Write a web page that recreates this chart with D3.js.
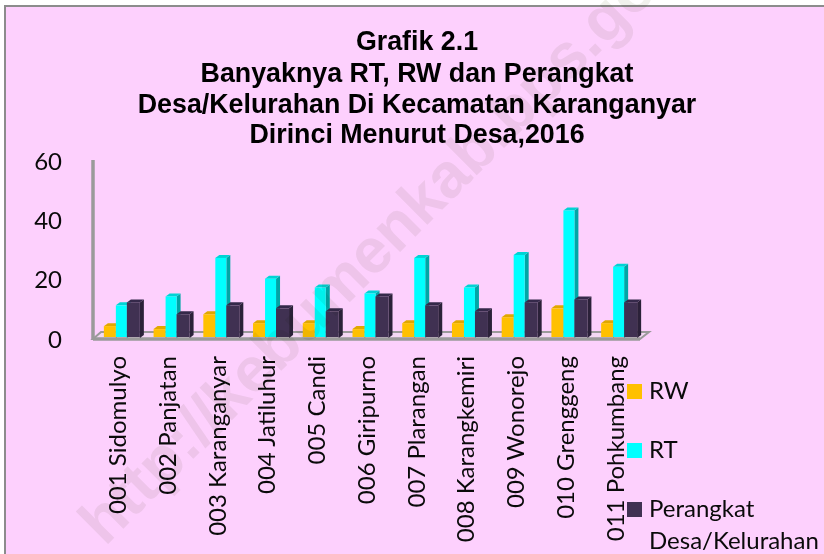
<!DOCTYPE html>
<html>
<head>
<meta charset="utf-8">
<script src="https://cdn.jsdelivr.net/npm/d3@7"></script>
<style>
  html, body { margin: 0; padding: 0; background: #fff; }
  svg { display: block; }
  .label { font-family: Lato, "Open Sans", sans-serif; font-size: 24px; fill: #0a0a0a; }
  .title { font-family: "Liberation Sans", Arial, sans-serif; font-weight: bold; font-size: 26.8px; fill: #000; text-anchor: middle; }
</style>
</head>
<body>
<div id="chart"></div>
<script>
// Data
const categories = ["001 Sidomulyo", "002 Panjatan", "003 Karanganyar", "004 Jatiluhur", "005 Candi",
    "006 Giripurno", "007 Plarangan", "008 Karangkemiri", "009 Wonorejo", "010 Grenggeng", "011 Pohkumbang"];
const rw = [4, 3, 8, 5, 5, 3, 5, 5, 7, 10, 5];
const rt = [11, 14, 27, 20, 17, 15, 27, 17, 28, 43, 24];
const perangkat = [12, 8, 11, 10, 9, 14, 11, 9, 12, 13, 12];
const seriesNames = ["RW", "RT", "Perangkat"];
const yTicks = [0, 20, 40, 60];
const titleLines = ["Grafik 2.1", "Banyaknya RT, RW dan Perangkat",
    "Desa/Kelurahan Di Kecamatan Karanganyar", "Dirinci Menurut Desa,2016"];
const watermark = "http://kebumenkab.bps.go.id";

const width = 824, height = 554;
const plot = { left: 93, right: 640, top: 160, bottom: 338 };
const depth = { x: 4, y: -3 }; // fake 3D offset of the bars

const series = [
    { name: seriesNames[0], values: rw, front: "#ffc000", top: "#e0a800", side: "#c79500", dx: -18, w: 12 },
    { name: seriesNames[1], values: rt, front: "#00ffff", top: "#00d4d4", side: "#00a6a6", dx: -6, w: 11 },
    { name: seriesNames[2], values: perangkat, front: "#403152", top: "#35294a", side: "#2b2139", dx: 5, w: 13 }
];

const svg = d3.select("#chart").append("svg")
    .attr("width", width)
    .attr("height", height);

// Pink panel with its grey border, open on the right and at the bottom
svg.append("rect").attr("x", 6).attr("y", 7).attr("width", width - 6).attr("height", height - 7).attr("fill", "#fdd0fd");
svg.append("path").attr("d", `M5,${height}V6H${width}`).attr("fill", "none").attr("stroke", "#8c8c8c").attr("stroke-width", 2);

// Scales
const x = d3.scaleBand().domain(categories).range([97, 644]);
const y = d3.scaleLinear().domain([0, 60]).range([plot.bottom, plot.top]);

// Floor and back wall
svg.append("path")
    .attr("d", `M${plot.left},${plot.bottom + 1}L${plot.left + 8},${plot.bottom - 6}H${plot.right + 9}L${plot.right},${plot.bottom + 1}Z`)
    .attr("fill", "#f4d8f4")
    .attr("stroke", "#9a9a9a")
    .attr("stroke-width", 2);
svg.append("line")
    .attr("x1", plot.left).attr("x2", plot.right)
    .attr("y1", plot.bottom + 1).attr("y2", plot.bottom + 1)
    .attr("stroke", "#9a9a9a").attr("stroke-width", 3.5);
svg.append("line")
    .attr("x1", plot.left).attr("x2", plot.left)
    .attr("y1", plot.top).attr("y2", plot.bottom + 2)
    .attr("stroke", "#9a9a9a").attr("stroke-width", 3.5);

// Bars
const groups = svg.append("g").selectAll("g")
    .data(categories)
    .enter().append("g")
    .attr("transform", d => `translate(${x(d) + x.bandwidth() / 2},0)`);

series.forEach(s => {
    const bar = groups.append("g").datum((d, i) => ({ v: s.values[i] }));
    bar.append("path")
        .attr("fill", s.side)
        .attr("d", d => `M${s.dx + s.w},${y(d.v)}l${depth.x},${depth.y}V${y(0) + depth.y}l${-depth.x},${-depth.y}Z`);
    bar.append("path")
        .attr("fill", s.top)
        .attr("d", d => `M${s.dx},${y(d.v)}l${depth.x},${depth.y}h${s.w}l${-depth.x},${-depth.y}Z`);
    bar.append("rect")
        .attr("fill", s.front)
        .attr("x", s.dx)
        .attr("width", s.w)
        .attr("y", d => y(d.v))
        .attr("height", d => y(0) - y(d.v) - 1);
});

// Value axis
const yAxis = svg.append("g")
    .attr("transform", "translate(68,1.5)")
    .call(d3.axisLeft(y).tickValues(yTicks).tickSize(0).tickPadding(6));
yAxis.select(".domain").remove();
yAxis.selectAll("text").attr("class", "label").attr("font-family", null).attr("font-size", null).attr("fill", null);

// Category axis, labels turned upright
const xAxis = svg.append("g")
    .attr("transform", "translate(-4,356)")
    .call(d3.axisBottom(x).tickSize(0).tickPadding(0));
xAxis.select(".domain").remove();
xAxis.selectAll("text")
    .attr("class", "label")
    .attr("font-family", null).attr("font-size", null).attr("fill", null)
    .attr("transform", "rotate(-90)")
    .attr("x", 0).attr("y", 0).attr("dy", "0.35em")
    .style("text-anchor", "end");

// Legend
const legendRows = [
    { color: series[0].front, lines: [seriesNames[0]], top: 384 },
    { color: series[1].front, lines: [seriesNames[1]], top: 443 },
    { color: series[2].front, lines: [seriesNames[2], "Desa/Kelurahan"], top: 502 }
];
const legend = svg.append("g").selectAll("g").data(legendRows).enter().append("g");
legend.append("rect")
    .attr("x", 627).attr("y", d => d.top)
    .attr("width", 15).attr("height", 15)
    .attr("fill", d => d.color);
legend.selectAll("text")
    .data(d => d.lines.map((t, i) => ({ t: t, y: d.top + 15 + i * 32 })))
    .enter().append("text")
    .attr("class", "label")
    .attr("x", 649)
    .attr("y", d => d.y)
    .text(d => d.t);

// Title
svg.append("g").selectAll("text")
    .data(titleLines)
    .enter().append("text")
    .attr("class", "title")
    .attr("x", 417)
    .attr("y", (d, i) => [50, 82, 113, 143][i])
    .text(d => d);

// Watermark lies over everything
svg.append("text")
    .attr("transform", "translate(105,547) rotate(-45)")
    .attr("font-family", "'Liberation Sans', Arial, sans-serif")
    .attr("font-weight", "bold")
    .attr("font-size", 63)
    .attr("fill", "#f0f1ec")
    .style("mix-blend-mode", "multiply")
    .text(watermark);
</script>
</body>
</html>
